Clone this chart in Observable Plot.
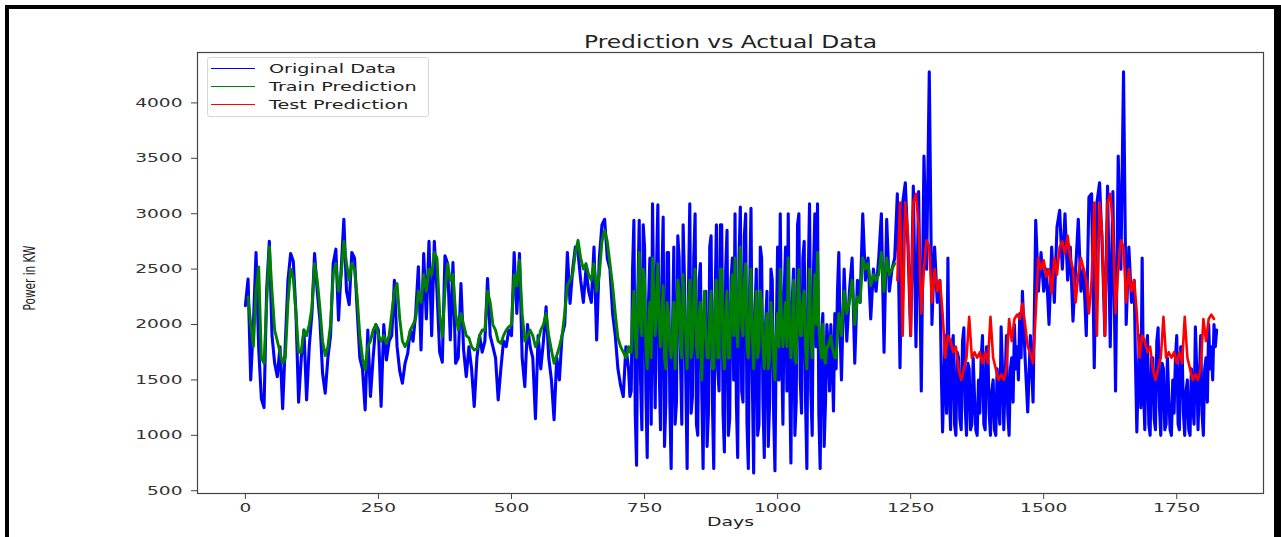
<!DOCTYPE html>
<html>
<head>
<meta charset="utf-8">
<script src="https://cdn.jsdelivr.net/npm/d3@7"></script>
<script src="https://cdn.jsdelivr.net/npm/@observablehq/plot@0.6"></script>
<style>
  html, body { margin: 0; padding: 0; background: #fff; }
  #wrap { position: relative; width: 1281px; height: 537px; overflow: hidden; background: #fff; }
  #chart { position: absolute; left: 0; top: 0; }
  #border { position: absolute; left: 5px; top: 5px; width: 1265px; height: 600px;
            border-left: 4px solid #000; border-top: 4px solid #000; border-right: 7px solid #000; box-sizing: content-box; pointer-events: none; }
  #legend { position: absolute; left: 207px; top: 57px; width: 222px; height: 60px; box-sizing: border-box;
            border: 1px solid #d6d6d6; border-radius: 3px; background: rgba(255,255,255,0.85); }
  .lrow { position: absolute; left: 0; height: 18px; width: 100%; }
  .lline { position: absolute; left: 3px; width: 44px; top: 8px; height: 0; }
  .ltext { position: absolute; left: 61px; top: 1px; font: 12px "DejaVu Sans", sans-serif; color: #222;
           white-space: nowrap; transform: scaleX(1.6); transform-origin: 0 50%; line-height: 16px; }
  #ylab { position: absolute; left: 30px; top: 278px; white-space: nowrap; color: #222;
          font: 15px "Liberation Sans Narrow", "DejaVu Sans Condensed", sans-serif; line-height: 16px; }
</style>
</head>
<body>
<div id="wrap">
  <div id="chart"></div>
  <div id="legend"></div>
  <div id="ylab"></div>
  <div id="border"></div>
</div>
<script>
// ---------------- data ----------------
const chartTitle = "Prediction vs Actual Data";
const xLabel = "Days";
const yLabel = "Power in KW";
const seriesNames = ["Original Data", "Train Prediction", "Test Prediction"];
const seriesColors = ["blue", "green", "red"];
const xTicks = [0, 250, 500, 750, 1000, 1250, 1500, 1750];
const yTicks = [500, 1000, 1500, 2000, 2500, 3000, 3500, 4000];

// Original data: day 0-715 every 5 days
const originalA = [
  2170, 2410, 1500, 2000, 2650, 1780, 1330, 1250, 2320, 2750, 1900, 1650, 1530, 1800, 1240, 1830, 2400, 2640, 2570, 2100,
  1300, 1700, 1950, 1320, 1800, 2100, 2640, 2300, 2040, 1560, 1380, 1700, 1900, 2550, 2680, 2040, 2500, 2950, 2300, 2180,
  2650, 2600, 2130, 1700, 1600, 1230, 1950, 1350, 1700, 2000, 1950, 1260, 2000, 1680, 1850, 1900, 2400, 1800, 1580, 1470,
  1650, 1740, 1950, 1850, 2100, 2520, 1770, 2640, 2050, 2750, 1900, 2750, 2300, 1750, 1660, 2620, 2550, 1860, 2560, 1650,
  1700, 2370, 1770, 1530, 1800, 1600, 1260, 1700, 1900, 1750, 1850, 2415, 1900, 1800, 1700, 1320, 1600, 1850, 1800, 1950,
  1900, 2650, 2100, 2640, 1700, 1440, 2000, 1800, 1700, 1150, 1900, 1600, 1850, 2160, 1700, 1500, 1140, 1700, 1500, 1900,
  2000, 2650, 2190, 2500, 2700, 2650, 2400, 2200, 2500, 2300, 2200, 2700, 1860, 2600, 2900, 2950, 2600, 2500, 2100, 1900,
  1600, 1450, 1350, 1800
];
// Original data: day 720-1120 every 2.5 days (very noisy stretch)
const originalNoisy = [
  1600, 1350, 1400, 2500, 2940, 1200, 730, 2300, 2940, 1500, 1050, 2900, 2700, 1400, 800, 2200, 2600, 1100, 3090, 2000,
  1250, 2500, 3080, 1600, 1050, 2400, 2970, 900, 1300, 2650, 2650, 1300,
  700, 1900, 2700, 1100, 1300, 2800, 2600, 1700, 1100, 2900, 2400, 1500, 700, 2300, 3090, 1200, 1350, 2600, 3000, 1100,
  1000, 2400, 2550, 1400, 700, 2000, 2300, 900, 1200, 2700, 2800, 1300, 700, 2200, 2900, 1600, 1400, 2900, 2900, 1200,
  850, 2500, 2850, 1000, 1150, 2400, 2600, 1500, 3000, 1300, 800, 2600, 3060, 1400, 1300, 2800, 3000, 1100, 700, 2300,
  3050, 1500, 660, 2100, 2500, 1000, 1100, 2700, 2600, 1300, 800, 2000, 2300, 900, 1300, 2500, 2400, 1200, 680, 1900,
  2700, 1500, 3000, 1800, 1100, 2300, 2700, 1400, 3000, 1600, 750, 2200, 2500, 1000, 1300, 2900, 3000, 1500, 1200, 2600,
  2750, 1300, 700, 2400, 3090, 1400, 1000, 2500, 3000, 1800, 3090, 1200, 700, 1900, 2100, 900, 1300, 2000, 1800, 1400,
  2000, 1700, 1220, 2100, 1600, 2300, 2650, 1900, 1500
];
// Original data: day 1125-1300 every 5 days
const originalB = [
  2500, 1850, 2300, 2600, 1650, 2400, 2200, 3000, 2400, 2600, 2050, 2500, 2300, 2600, 3000,
  1750, 2950, 2300, 2500, 2600, 3180, 1610, 3100, 3280, 2700, 1900, 3250, 1800, 3200, 1400, 3520, 2500, 4280, 2000, 2700, 2200
];
// Original data: day 1305-1460 every 2.5 days (first low season of the test span)
const originalLow1 = [
  2400, 1600, 1030, 1500, 1900, 1200, 2600, 1400, 1050, 1800, 1900, 1100, 1000, 1750, 1700, 1150, 1050, 1850, 1970, 1250,
  1000, 1650, 1600, 1050, 1100, 1700, 1350, 1050, 1000, 1500, 1200, 1700, 1900, 1100, 1050, 1800, 1800, 1200, 1000, 1400,
  1500, 1050, 1000, 1600, 1300, 1100, 1980, 1600, 1050, 1500, 1900, 1200, 1000, 1600, 1700, 1300, 2000, 1600, 1800, 1500,
  2100, 1700, 2300
];
// Original data: day 1465-1665 every 5 days
const originalMid = [
  1700, 1210, 1900, 1300, 2940, 2300, 2650,
  2300, 2500, 2000, 2700, 2200, 2880, 3030, 2500, 3000, 2400, 2700, 2030, 2500, 2950, 2300, 2500, 1900, 3150, 3180, 1610,
  3100, 3280, 2700, 1900, 3250, 1800, 3200, 1400, 3520, 2500, 4280, 2000, 2700, 2200
];
// Original data: day 1670-1825 every 2.5 days (second low season)
const originalLow2 = [
  2400, 1650, 1030, 1500, 1900, 1250, 2600, 1400, 1050, 1800, 1900, 1100, 1000, 1700, 1700, 1150, 1050, 1850, 1970, 1250,
  1000, 1650, 1600, 1050, 1100, 1700, 1350, 1050, 1000, 1500, 1200, 1700, 1900, 1100, 1050, 1800, 1800, 1200, 1000, 1400,
  1500, 1050, 1000, 1600, 1300, 1100, 1980, 1600, 1050, 1500, 1900, 1200, 1000, 1600, 1700, 1300, 2000, 1600, 1800, 1500,
  2000, 1800, 1950
];

// Train prediction: day 5-715 every 5 days
const trainA = [
  2250, 2000, 1800, 2300, 2520, 1700, 1650, 2200, 2700, 2300, 1950, 1850, 1750, 1650, 1700, 2200, 2500, 2420, 2100, 1750,
  1750, 1950, 1900, 2000, 2150, 2550, 2400, 2150, 1850, 1720, 1800, 2000, 2450, 2550, 2300, 2450, 2750, 2550, 2400, 2550,
  2500, 2250, 1900, 1700, 1590, 1800, 1850, 1950, 2000, 1900, 1850, 1900, 1830, 1900, 2100, 2300, 2370, 2050, 1850, 1800,
  1850, 1950, 2000, 2050, 2300, 2200, 2450, 2300, 2500, 2450, 2650, 2600, 2100, 1890, 2300, 2550, 2400, 2450, 2100, 1950,
  2100, 2000, 1900, 1880, 1800, 1770, 1780, 1900, 1950, 1950, 2300, 2200, 2000, 1950, 1850, 1830, 1900, 1950, 1980, 2000,
  2450, 2350, 2580, 2100, 1850, 1900, 1950, 1900, 1800, 1850, 1950, 2000, 2100, 1900, 1770, 1650, 1720, 1800, 1900, 2100,
  2350, 2400, 2450, 2650, 2760, 2600, 2500, 2550, 2450, 2400, 2550, 2300, 2450, 2750, 2850, 2750, 2550, 2350, 2100, 1880,
  1800, 1750, 1700
];
// Train prediction: day 720-1120 every 2.5 days
const trainNoisy = [
  1800, 1750, 1750, 2100, 2300, 1900, 1700, 2200, 2650, 2000, 1900, 2500, 2400, 1800, 1600, 2000, 2200, 1700, 2600, 2300,
  1900, 2200, 2550, 2000, 1800, 2100, 2350, 1700, 1600, 2200, 2100, 1800,
  1700, 1900, 2200, 1600, 1900, 2400, 2300, 1800, 1700, 2450, 2100, 1900, 1600, 2200, 2400, 1700, 1800, 2300, 2500, 1800,
  1700, 2100, 2200, 1500, 2000, 2300, 1900, 1700, 1700, 2100, 2300, 1600, 1600, 2200, 2400, 1700, 1700, 2500, 2500, 1800,
  1600, 2100, 2300, 1700, 1700, 2200, 2450, 1900, 2600, 2000, 1800, 2300, 2700, 2000, 1900, 2400, 2550, 1800, 1700, 2100,
  2500, 1900, 1600, 2000, 2300, 1700, 1800, 2300, 2200, 1800, 1600, 1900, 2100, 1600, 1700, 2200, 2000, 1700, 1500, 1900,
  2100, 1800, 2500, 2000, 1800, 2000, 2200, 1800, 2600, 2000, 1700, 1900, 2400, 1700, 1650, 2200, 2500, 1900, 1900, 2200,
  2300, 1800, 1600, 2000, 2500, 1900, 1700, 2100, 2450, 2000, 2650, 2000, 1800, 1700, 2000, 1700, 1650, 1800, 1800, 1850,
  1900, 1800, 1750, 1700, 1700, 1900, 2100, 2000, 1900
];
// Train prediction: day 1125-1220 every 5 days
const trainB = [
  2300, 2100, 2200, 2400, 2000, 2250, 2200, 2600, 2500, 2550, 2350, 2450, 2400, 2450, 2650, 2300, 2600, 2450, 2500, 2550
];

// Test prediction: day 1225-1820 every 5 days
const testValues = [
  2400, 3100, 1900, 3100, 2800, 1900, 3100, 3180, 2900, 2100, 2500, 2760, 2700, 2200, 2500, 2300, 2400, 2100, 1700, 1900,
  1850, 1750, 1800, 1600, 1500, 1600, 1700, 2070, 1700, 1750, 1700, 1750, 1650, 1750, 1650, 2070, 1700, 1600, 1500, 1550,
  1500, 1600, 2050, 1850, 2050, 2090, 2050, 2190, 2000, 1800, 1740, 1650, 2100, 2600, 2500, 2580, 2430, 2500, 2280, 2600,
  2450, 2700, 2750, 2640, 2800, 2600, 2500, 2200, 2450, 2600, 2500, 2400, 2100, 2400, 3100, 1900, 3100, 2800, 1900, 3100,
  3180, 2900, 2100, 2500, 2760, 2700, 2200, 2500, 2300, 2400, 2100, 1700, 1900, 1850, 1750, 1800, 1600, 1500, 1600, 1700,
  2070, 1700, 1750, 1700, 1750, 1650, 1750, 1650, 2070, 1700, 1600, 1500, 1550, 1500, 1600, 2050, 1850, 2050, 2090, 2050
];

// ---------------- build ----------------
const seg = (vals, start, step) => vals.map((v, i) => ({day: start + i * step, value: v}));
const original = [
  ...seg(originalA, 0, 5), ...seg(originalNoisy, 720, 2.5), ...seg(originalB, 1125, 5),
  ...seg(originalLow1, 1305, 2.5), ...seg(originalMid, 1465, 5), ...seg(originalLow2, 1670, 2.5)
];
const train = [...seg(trainA, 5, 5), ...seg(trainNoisy, 720, 2.5), ...seg(trainB, 1125, 5)];
const test = seg(testValues, 1225, 5);

const fmt = d => String(d);

const plot = Plot.plot({
  width: 1281,
  height: 537,
  marginTop: 52,
  marginRight: 18,
  marginBottom: 44,
  marginLeft: 197,
  style: {fontFamily: "'DejaVu Sans', sans-serif", fontSize: "12px", color: "#333", background: "transparent", overflow: "visible"},
  x: {domain: [-90, 1913], label: null},
  y: {domain: [475, 4455], label: null},
  marks: [
    Plot.line(original, {x: "day", y: "value", stroke: seriesColors[0], strokeWidth: 3.1}),
    Plot.line(train, {x: "day", y: "value", stroke: seriesColors[1], strokeWidth: 2.9}),
    Plot.line(test, {x: "day", y: "value", stroke: seriesColors[2], strokeWidth: 2.6}),
    Plot.frame({stroke: "#444", strokeWidth: 1.2}),
    Plot.axisX({ticks: xTicks, tickFormat: fmt, tickSize: 6, tickPadding: 4, label: null, stroke: "#444"}),
    Plot.axisY({ticks: yTicks, tickFormat: fmt, tickSize: 6, tickPadding: 9, label: null, stroke: "#444"}),
    Plot.text([chartTitle], {text: d => d, frameAnchor: "top", dy: -17, fontSize: 17, fill: "#222"}),
    Plot.text([xLabel], {text: d => d, frameAnchor: "bottom", dy: 32, fontSize: 12, fill: "#222"})
  ]
});
document.getElementById("chart").appendChild(plot);

// Reference figure is horizontally stretched: widen glyphs of the horizontal texts
plot.querySelectorAll("text").forEach(t => {
  const s = t.textContent;
  const len = t.getComputedTextLength();
  if (!len) return;
  let target;
  if (s === chartTitle) target = 293;
  else if (s === xLabel) target = 47;
  else target = len * 1.55;
  t.setAttribute("textLength", target.toFixed(1));
  t.setAttribute("lengthAdjust", "spacingAndGlyphs");
});

// y label (rotated, narrow font, ~65px long, centred at x=30, y=278)
const ylab = document.getElementById("ylab");
ylab.textContent = yLabel;
const natural = ylab.getBoundingClientRect().width;
const k = 65 / natural;
ylab.style.transform = `translate(-50%, -50%) rotate(-90deg) scaleX(${k.toFixed(3)})`;

// legend
const legend = document.getElementById("legend");
seriesNames.forEach((name, i) => {
  const row = document.createElement("div");
  row.className = "lrow";
  row.style.top = (2 + i * 18) + "px";
  const line = document.createElement("div");
  line.className = "lline";
  line.style.borderTop = "1.6px solid " + seriesColors[i];
  const txt = document.createElement("span");
  txt.className = "ltext";
  txt.textContent = name;
  row.appendChild(line);
  row.appendChild(txt);
  legend.appendChild(row);
});
</script>
</body>
</html>
